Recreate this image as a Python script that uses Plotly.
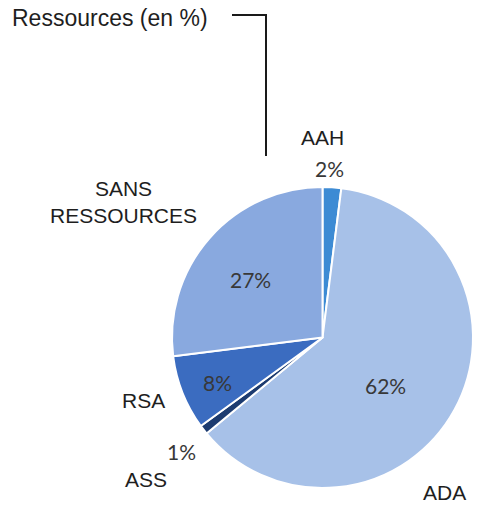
import plotly.graph_objects as go

# ---- data ----
labels = ["AAH", "ADA", "ASS", "RSA", "SANS RESSOURCES"]
values = [2, 62, 1, 8, 27]
label_texts = ["AAH", "ADA", "ASS", "RSA", "SANS<br>RESSOURCES"]
title_text = "Ressources (en %)"

# ---- style ----
colors = ["#3d8bd4", "#a7c1e8", "#1c3b70", "#3b6cc0", "#89a9df"]
W, H = 477, 506

# pixel centres for label / percentage annotations (layout only)
label_pos = [(322, 137), (444, 492), (146, 479), (143, 400), (123, 202)]
pct_pos = [(329, 168), (385, 385), (181, 451), (217, 382), (251, 279)]


def px(x, y):
    return x / W, 1 - y / H


fig = go.Figure(
    go.Pie(
        labels=labels,
        values=values,
        sort=False,
        direction="clockwise",
        rotation=0,
        marker=dict(colors=colors, line=dict(color="white", width=2)),
        textinfo="none",
        hoverinfo="label+percent",
        domain=dict(x=[172 / W, 473 / W], y=[1 - 488 / H, 1 - 187 / H]),
        showlegend=False,
    )
)

annotations = []
for txt, (x, y) in zip(label_texts, label_pos):
    ax, ay = px(x, y)
    annotations.append(
        dict(
            x=ax, y=ay, xref="paper", yref="paper", text=txt, showarrow=False,
            xanchor="center", yanchor="middle",
            font=dict(family="Liberation Sans, Arial", size=21, color="#1e1e1e"),
        )
    )
for v, (x, y) in zip(values, pct_pos):
    ax, ay = px(x, y)
    annotations.append(
        dict(
            x=ax, y=ay, xref="paper", yref="paper", text=f"{v}%", showarrow=False,
            xanchor="center", yanchor="middle",
            font=dict(family="Lato, Open Sans", size=21, color="#383838"),
        )
    )
tx, ty = px(10, 18)
annotations.append(
    dict(
        x=tx, y=ty, xref="paper", yref="paper", text=title_text, showarrow=False,
        xanchor="left", yanchor="middle",
        font=dict(family="Liberation Sans, Arial", size=23, color="#1e1e1e"),
    )
)

x1, y1 = px(232, 15)
x2, y2 = px(266, 15)
x3, y3 = px(266, 156)
shapes = [
    dict(type="path", xref="paper", yref="paper",
         path=f"M {x1} {y1} L {x2} {y2} L {x3} {y3}",
         line=dict(color="#1a1a1a", width=2)),
]

fig.update_layout(
    width=W, height=H,
    margin=dict(l=0, r=0, t=0, b=0),
    paper_bgcolor="white", plot_bgcolor="white",
    annotations=annotations,
    shapes=shapes,
)

fig.write_html(
    "out.html",
    config={"displayModeBar": False},
    post_script="document.body.style.margin='0';document.body.style.overflow='hidden';",
)
